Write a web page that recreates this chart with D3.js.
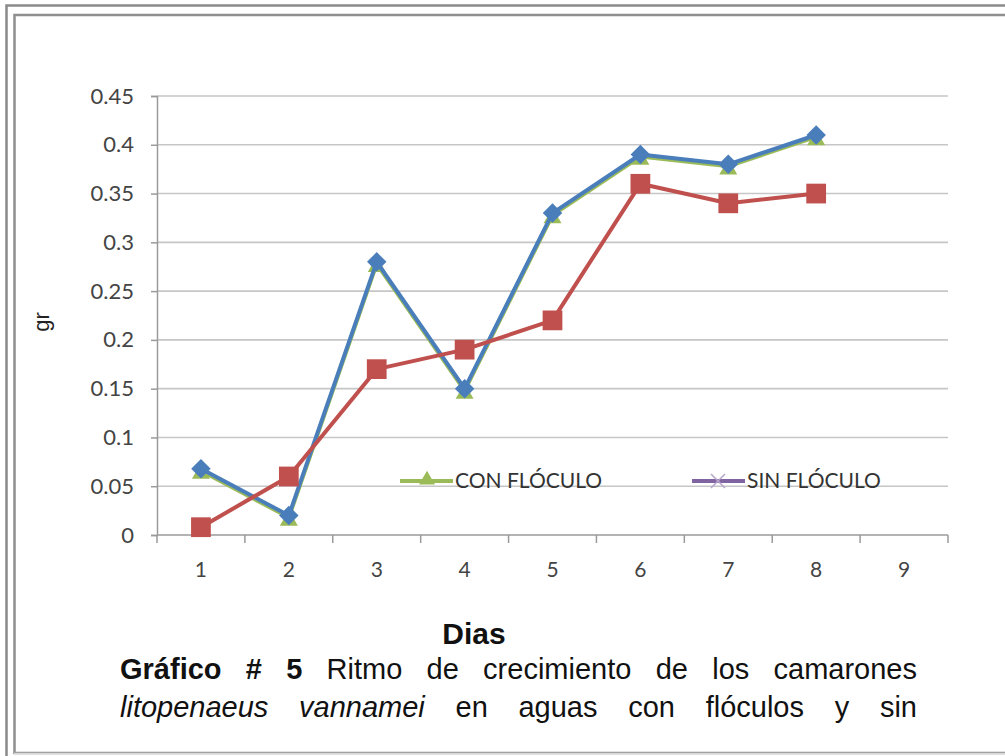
<!DOCTYPE html>
<html>
<head>
<meta charset="utf-8">
<script src="https://cdn.jsdelivr.net/npm/d3@7"></script>
<style>
  html, body { margin: 0; padding: 0; background: #fff; }
  svg { display: block; }
</style>
</head>
<body>
<svg id="chart" width="1005" height="756"></svg>
<script>
// Growth of shrimp (gr) per day
const dias = ["1", "2", "3", "4", "5", "6", "7", "8", "9"];
const serieAzul = [0.068, 0.02, 0.28, 0.15, 0.33, 0.39, 0.38, 0.41];
const serieRoja = [0.008, 0.06, 0.17, 0.19, 0.22, 0.36, 0.34, 0.35];
const conFloculo = [0.066, 0.018, 0.278, 0.148, 0.328, 0.388, 0.378, 0.408];
const sinFloculo = [];
const yTicks = [0, 0.05, 0.1, 0.15, 0.2, 0.25, 0.3, 0.35, 0.4, 0.45];
const leyenda = ["CON FLÓCULO", "SIN FLÓCULO"];

const svg = d3.select("#chart");
const W = 1005, H = 756;
const tickFont = "Lato, 'Open Sans', sans-serif";
const textFont = "'Liberation Sans', Arial, sans-serif";

// double picture frame
const frame = svg.append("g");
frame.append("rect").attr("x", 6.5).attr("y", 5.5).attr("width", W + 20).attr("height", H + 20)
  .attr("fill", "none").attr("stroke", "#8a8a8a").attr("stroke-width", 2.5);
frame.append("rect").attr("x", 14.5).attr("y", 15).attr("width", W + 20).attr("height", 738)
  .attr("fill", "none").attr("stroke", "#8f8f8f").attr("stroke-width", 2.5);
frame.append("line").attr("x1", 14).attr("x2", W).attr("y1", 753.5).attr("y2", 753.5)
  .attr("stroke", "#d8d8d8").attr("stroke-width", 1.5);

const plot = { left: 157, right: 948, top: 96, bottom: 535 };

const x = d3.scaleBand().domain(dias).range([plot.left, plot.right]);
const y = d3.scaleLinear().domain([0, 0.45]).range([plot.bottom, plot.top]);

// horizontal gridlines
svg.append("g").selectAll("line").data(yTicks.slice(1)).join("line")
  .attr("x1", plot.left).attr("x2", plot.right)
  .attr("y1", d => y(d)).attr("y2", d => y(d))
  .attr("stroke", "#c6c6c6").attr("stroke-width", 1.6);

// y axis
const yAxis = svg.append("g").attr("transform", `translate(${plot.left},0)`)
  .call(d3.axisLeft(y).tickValues(yTicks).tickFormat(d => String(+d.toFixed(2)))
    .tickSizeOuter(0).tickSize(6).tickPadding(17));
yAxis.select(".domain").attr("stroke", "#9a9a9a").attr("stroke-width", 1.5);
yAxis.selectAll(".tick line").attr("stroke", "#9a9a9a").attr("stroke-width", 1.5);
yAxis.selectAll("text").attr("font-family", tickFont).attr("font-size", 22).attr("fill", "#444");

// x axis: ticks at band edges
const xAxisG = svg.append("g").attr("transform", `translate(0,${plot.bottom})`);
xAxisG.append("line").attr("x1", plot.left).attr("x2", plot.right).attr("y1", 0).attr("y2", 0)
  .attr("stroke", "#9a9a9a").attr("stroke-width", 1.5);
const edges = dias.map(d => x(d)).concat([x(dias[dias.length - 1]) + x.bandwidth()]);
xAxisG.selectAll("line.edge").data(edges).join("line").attr("class", "edge")
  .attr("x1", d => d).attr("x2", d => d).attr("y1", 0).attr("y2", 8)
  .attr("stroke", "#9a9a9a").attr("stroke-width", 1.5);
xAxisG.selectAll("text").data(dias).join("text")
  .attr("x", d => x(d) + x.bandwidth() / 2).attr("y", 35)
  .attr("dy", "0.35em").attr("text-anchor", "middle")
  .attr("font-family", tickFont).attr("font-size", 21).attr("fill", "#444")
  .text(d => d);

// y axis title
svg.append("text").attr("transform", "translate(49,322) rotate(-90)")
  .attr("text-anchor", "middle").attr("font-family", textFont)
  .attr("font-size", 22).attr("fill", "#222").text("gr");

const cx = i => x(dias[i]) + x.bandwidth() / 2;
const line = d3.line().x((d, i) => cx(i)).y(d => y(d));

// CON FLÓCULO (green, triangles) drawn beneath
svg.append("path").datum(conFloculo).attr("d", line).attr("fill", "none")
  .attr("stroke", "#9BBB59").attr("stroke-width", 4);
svg.append("g").selectAll("path").data(conFloculo).join("path")
  .attr("transform", (d, i) => `translate(${cx(i)},${y(d) + 3})`)
  .attr("d", d3.symbol(d3.symbolTriangle, 140))
  .attr("fill", "#9BBB59");

// SIN FLÓCULO (purple)
svg.append("path").datum(sinFloculo).attr("d", line).attr("fill", "none")
  .attr("stroke", "#8064A2").attr("stroke-width", 4);

// blue series with diamonds
svg.append("path").datum(serieAzul).attr("d", line).attr("fill", "none")
  .attr("stroke", "#4A7EBB").attr("stroke-width", 4).attr("stroke-linejoin", "round");
svg.append("g").selectAll("path").data(serieAzul).join("path")
  .attr("transform", (d, i) => `translate(${cx(i)},${y(d)}) rotate(45)`)
  .attr("d", d3.symbol(d3.symbolSquare, 190))
  .attr("fill", "#4A7EBB");

// red series with squares
svg.append("path").datum(serieRoja).attr("d", line).attr("fill", "none")
  .attr("stroke", "#C0504D").attr("stroke-width", 4).attr("stroke-linejoin", "round");
svg.append("g").selectAll("path").data(serieRoja).join("path")
  .attr("transform", (d, i) => `translate(${cx(i)},${y(d)})`)
  .attr("d", d3.symbol(d3.symbolSquare, 390))
  .attr("fill", "#C0504D");

// legend
const legY = 481;
const leg = svg.append("g");
const legItems = [
  { name: leyenda[0], color: "#9BBB59", x0: 400, sym: "tri" },
  { name: leyenda[1], color: "#8064A2", x0: 692, sym: "x" }
];
legItems.forEach(it => {
  leg.append("line").attr("x1", it.x0).attr("x2", it.x0 + 53).attr("y1", legY).attr("y2", legY)
    .attr("stroke", it.color).attr("stroke-width", 4);
  if (it.sym === "tri") {
    leg.append("path").attr("transform", `translate(${it.x0 + 27},${legY - 1})`)
      .attr("d", d3.symbol(d3.symbolTriangle, 110)).attr("fill", it.color);
  } else {
    leg.append("path").attr("transform", `translate(${it.x0 + 26},${legY})`)
      .attr("d", "M-7,-7L7,7M-7,7L7,-7").attr("stroke", "#b7a6cc").attr("stroke-width", 1.5);
  }
  leg.append("text").attr("x", it.x0 + 55).attr("y", legY).attr("dy", "0.35em")
    .attr("font-family", tickFont).attr("font-size", 21).attr("fill", "#333")
    .text(it.name);
});

// x axis title
svg.append("text").attr("x", 474).attr("y", 644).attr("text-anchor", "middle")
  .attr("font-family", textFont).attr("font-weight", "bold")
  .attr("font-size", 30).attr("fill", "#111").text("Dias");

// justified two-line caption
const captionLines = [
  [{ t: "Gráfico", b: true }, { t: "#", b: true }, { t: "5", b: true }, { t: "Ritmo" }, { t: "de" }, { t: "crecimiento" }, { t: "de" }, { t: "los" }, { t: "camarones" }],
  [{ t: "litopenaeus", i: true }, { t: "vannamei", i: true }, { t: "en" }, { t: "aguas" }, { t: "con" }, { t: "flóculos" }, { t: "y" }, { t: "sin" }]
];
const capX0 = 120, capX1 = 917, capBase = [679, 717];
captionLines.forEach((words, li) => {
  const g = svg.append("g");
  const nodes = words.map(w => g.append("text")
    .attr("y", capBase[li])
    .attr("font-family", textFont).attr("font-size", 29)
    .attr("font-weight", w.b ? "bold" : "normal").attr("font-style", w.i ? "italic" : "normal")
    .attr("fill", "#111").text(w.t));
  const widths = nodes.map(n => n.node().getComputedTextLength());
  const gap = (capX1 - capX0 - d3.sum(widths)) / (words.length - 1);
  let cur = capX0;
  nodes.forEach((n, k) => { n.attr("x", cur); cur += widths[k] + gap; });
});
</script>
</body>
</html>
